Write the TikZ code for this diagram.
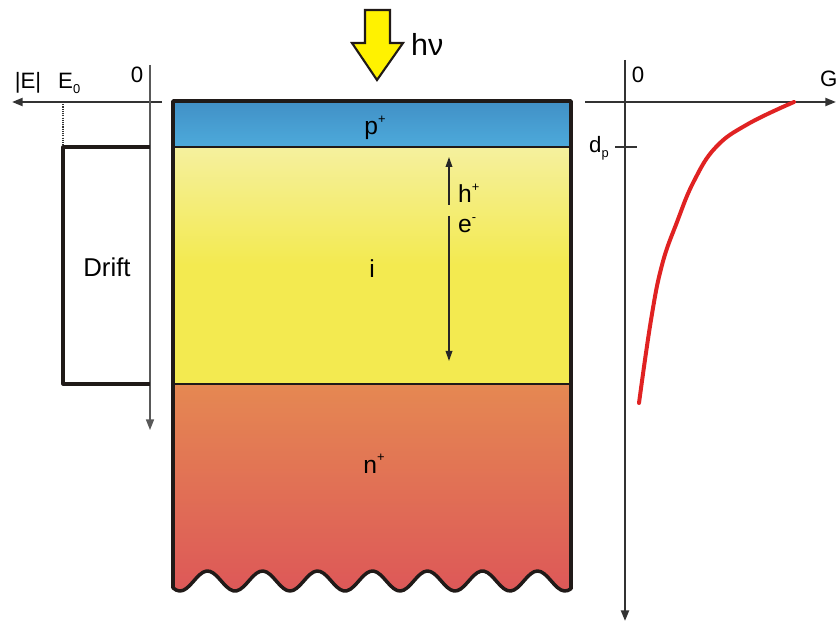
\documentclass[tikz,border=0pt]{standalone}
\usepackage{fontspec}
\setmainfont{Liberation Sans}
\usetikzlibrary{arrows.meta}
\definecolor{pbluetop}{HTML}{4190C6}
\definecolor{pbluebot}{HTML}{4DAADB}
\definecolor{ipale}{HTML}{F5F09E}
\definecolor{iyellow}{HTML}{F3EA50}
\definecolor{norange}{HTML}{E58852}
\definecolor{nred}{HTML}{DD5858}
\definecolor{curvered}{HTML}{E02222}
\definecolor{edge}{HTML}{201A18}
\newcommand{\sups}[1]{\raisebox{0.85ex}{\fontsize{11}{11}\selectfont #1}}
\newcommand{\subs}[1]{\raisebox{-0.35ex}{\fontsize{11}{11}\selectfont #1}}

\begin{document}
\begin{tikzpicture}[
    x=0.03cm, y=-0.03cm,
    layer/.style   = {draw=edge, line width=3pt, line join=round},
    axis/.style    = {draw=black!80, line width=1.8pt, -{Triangle[length=3.2mm, width=2.4mm]}},
    carrier/.style = {draw=black!85, line width=1.1pt, -{Triangle[length=3mm, width=2mm]}},
    lbl/.style     = {font=\fontsize{21}{24}\selectfont, inner sep=0pt, anchor=base},
    axlbl/.style   = {font=\fontsize{19}{22}\selectfont, inner sep=0pt, anchor=base}
  ]
  \useasboundingbox (0,0) rectangle (836,624);
  % device layers (not to scale)
  \def\xl{173}
  \def\xr{571}
  \shade[top color=pbluetop, bottom color=pbluebot] (\xl,101) rectangle (\xr,147);
  \shade[top color=ipale, bottom color=iyellow] (\xl,147) rectangle (\xr,265);
  \fill[iyellow] (\xl,264) rectangle (\xr,384);
  \shade[top color=norange, bottom color=nred] (\xl,384) -- (\xr,384)
    -- plot[domain=\xr:\xl, samples=120] (\x, {581+10*cos(6.5455*(\x-180))}) -- cycle;
  \draw[layer] plot[domain=\xl:\xr, samples=120] (\x, {581+10*cos(6.5455*(\x-180))})
    -- (\xr,101) -- (\xl,101) -- cycle;
  \draw[layer, line width=2.5pt] (\xl,147) -- (\xr,147);
  \draw[layer, line width=2.5pt] (\xl,384) -- (\xr,384);
  \node[lbl] (pplus) at (375,135) {p\sups{+}};
  \node[lbl] (intr)  at (372,278) {i};
  \node[lbl] (nplus) at (374,473) {n\sups{+}};

  % incoming light
  \draw[fill=yellow, draw=edge, line width=1.8pt, line join=miter]
    (365,10) -- (390,10) -- (390,43) -- (403,43) -- (377,80) -- (352,43) -- (365,43) -- cycle;
  \node[font=\fontsize{26}{30}\selectfont, inner sep=0pt, anchor=base west] (hnu) at (411,56) {hν};

  % carriers in the intrinsic zone
  \coordinate (hstart) at (449,205);
  \coordinate (hend)   at (449,157);
  \coordinate (estart) at (449,216);
  \coordinate (eend)   at (449,361);
  \draw[carrier] (hstart) -- (hend);
  \draw[carrier] (estart) -- (eend);
  \node[lbl, anchor=base west] (hole) at (458,203) {h\sups{+}};
  \node[lbl, anchor=base west] (elec) at (458,233) {e\sups{-}};

  % field profile |E|
  \coordinate (eright) at (162,102);
  \coordinate (eleft)  at (12,102);
  \coordinate (etop)   at (150,65);
  \coordinate (ebot)   at (150,430);
  \draw[axis] (eright) -- (eleft);
  \draw[axis, line width=1.3pt, draw=black!65] (etop) -- (ebot);
  \draw[black!80, line width=0.9pt, densely dotted] (63,102) -- (63,147);
  \draw[layer, line width=2.6pt] (150,147) -- (63,147) -- (63,384) -- (150,384);
  \node[font=\fontsize{22}{26}\selectfont, inner sep=0pt, anchor=base] (drift) at (107,277) {Drift};
  \node[axlbl] (eabs)  at (28,89)  {|E|};
  \node[axlbl, anchor=base west] (ezero) at (58,89) {E\subs{0}};
  \node[axlbl] (ezpos) at (137,83) {0};

  % generation profile G
  \coordinate (gtop)   at (625,60);
  \coordinate (gbot)   at (625,621);
  \coordinate (gleft)  at (585,102);
  \coordinate (gright) at (836,102);
  \draw[axis] (gtop) -- (gbot);
  \draw[axis] (gleft) -- (gright);
  \coordinate (dpl) at (615,147);
  \coordinate (dpr) at (637,147);
  \draw[black!80, line width=1.8pt] (dpl) -- (dpr);
  \node[axlbl] (gzero) at (638,83) {0};
  \node[axlbl, anchor=base west] (glab) at (820,87) {G};
  \node[axlbl, anchor=base west] (dp) at (589,153) {d\subs{p}};
  \draw[curvered, line width=3.4pt, line cap=round] plot[smooth, tension=0.7] coordinates {
    (794,102) (748,124) (716,147) (694,181) (677,222) (662,265) (651,320) (639,403)};
\end{tikzpicture}
\end{document}
